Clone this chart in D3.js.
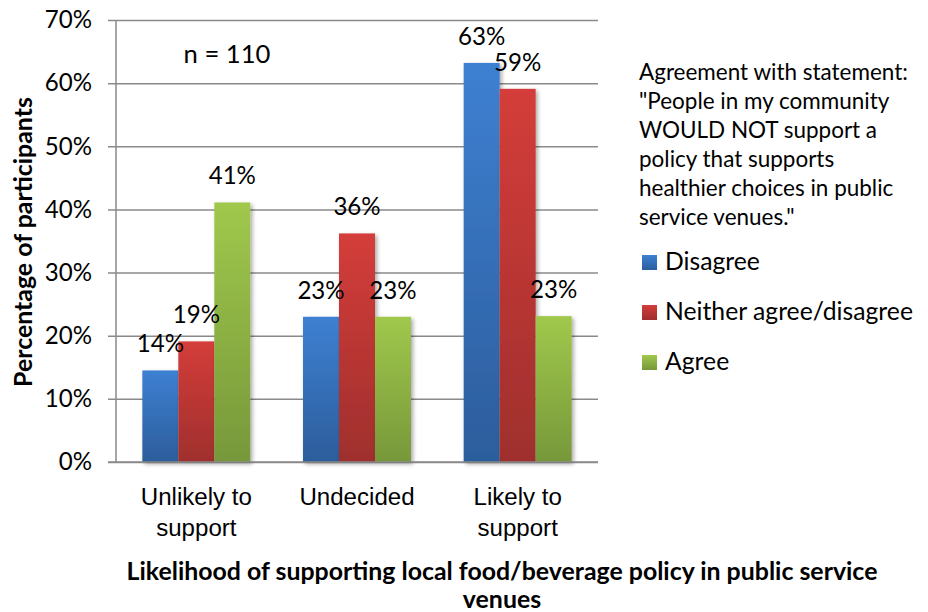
<!DOCTYPE html>
<html><head><meta charset="utf-8">
<script src="https://cdn.jsdelivr.net/npm/d3@7"></script>
<style>body{margin:0;background:#fff}svg{display:block;font-family:Lato,"Open Sans",sans-serif}</style>
</head><body>
<svg id="c" width="928" height="612"></svg>
<script>
const categories = [["Unlikely to","support"],["Undecided"],["Likely to","support"]];
const seriesNames = ["Disagree","Neither agree/disagree","Agree"];
const disagree = [14.5, 23.0, 63.2];
const neither  = [19.1, 36.2, 59.1];
const agree    = [41.1, 23.0, 23.1];
const valueLabels = [["14%","23%","63%"],["19%","36%","59%"],["41%","23%","23%"]];
const yTicks = [0,10,20,30,40,50,60,70];
const legendTitle = ["Agreement with statement:","\"People in my community","WOULD NOT support a","policy that supports","healthier choices in public","service venues.\""];
const colors = [["#3e80d2","#2c5d9c"],["#d43d3a","#9f2f2d"],["#a0c84c","#77983a"]];

const series = [disagree, neither, agree];
const svg = d3.select("#c");
const m = {l:116, r:598, t:20, b:462};

// font size fitting helper (match reference text widths)
function fit(text, weight, width){
  const t = svg.append("text").attr("font-size",20).attr("font-weight",weight).text(text);
  const w = t.node().getComputedTextLength(); t.remove();
  return 20*width/w;
}
const fsMain = fit("Undecided","normal",114);
const fsLegTitle = fit(legendTitle[0],"normal",269);
const fsLeg = fit("Neither agree/disagree","normal",248);
const fsXT = fit("Likelihood of supporting local food/beverage policy in public service","bold",751);
const fsYT = fit("Percentage of participants","bold",290);
const fsN = fit("n = 110","normal",87);

const defs = svg.append("defs");
colors.forEach((c,i)=>{
  const g = defs.append("linearGradient").attr("id","g"+i).attr("x1",0).attr("y1",0).attr("x2",0).attr("y2",1);
  g.append("stop").attr("offset","0%").attr("stop-color",c[0]);
  g.append("stop").attr("offset","100%").attr("stop-color",c[1]);
});
const f = defs.append("filter").attr("id","sh").attr("x","-20%").attr("y","-5%").attr("width","150%").attr("height","115%");
f.append("feGaussianBlur").attr("in","SourceAlpha").attr("stdDeviation",2);
f.append("feOffset").attr("dx",2).attr("dy",2).attr("result","b");
f.append("feComponentTransfer").append("feFuncA").attr("type","linear").attr("slope",0.35);
const mg = f.append("feMerge"); mg.append("feMergeNode"); mg.append("feMergeNode").attr("in","SourceGraphic");

const y = d3.scaleLinear().domain([0,70]).range([m.b,m.t]);
const x0 = d3.scaleBand().domain(d3.range(categories.length)).range([m.l,m.r]).paddingInner(0.328).paddingOuter(0.164);
const x1 = d3.scaleBand().domain(d3.range(series.length)).range([0,x0.bandwidth()]);

// gridlines + y axis
const ya = svg.append("g").attr("transform",`translate(${m.l},0)`)
  .call(d3.axisLeft(y).tickValues(yTicks).tickFormat(d=>d+"%").tickSize(-(m.r-m.l)).tickSizeOuter(0).tickPadding(0));
ya.select(".domain").remove();
ya.selectAll(".tick line").attr("stroke","#8a8a8a").attr("stroke-width",1.5).attr("x1",-8);
ya.selectAll(".tick text").attr("x",-24).attr("font-size",fsMain).attr("fill","#000").attr("font-family","Lato");
svg.append("line").attr("x1",m.l).attr("x2",m.l).attr("y1",m.t).attr("y2",m.b).attr("stroke","#8a8a8a").attr("stroke-width",1.5);

// bars
const groups = svg.append("g").selectAll("g").data(categories).join("g")
  .attr("transform",(d,i)=>`translate(${x0(i)},0)`);
groups.selectAll("rect").data((d,i)=>series.map((s,j)=>({j,v:s[i]}))).join("rect")
  .attr("x",d=>x1(d.j)).attr("width",x1.bandwidth())
  .attr("y",d=>y(d.v)).attr("height",d=>y(0)-y(d.v))
  .attr("fill",d=>`url(#g${d.j})`).attr("filter","url(#sh)");
groups.selectAll("text.v").data((d,i)=>series.map((s,j)=>({j,v:s[i],t:valueLabels[j][i]}))).join("text")
  .attr("class","v").attr("x",d=>x1(d.j)+x1.bandwidth()/2).attr("y",d=>y(d.v)-18)
  .attr("text-anchor","middle").attr("font-size",fsMain).text(d=>d.t);

// baseline
svg.append("line").attr("x1",m.l-8).attr("x2",m.r).attr("y1",m.b).attr("y2",m.b).attr("stroke","#8a8a8a").attr("stroke-width",1.5);

// x labels
const xa = svg.append("g").attr("transform",`translate(0,${m.b})`)
  .call(d3.axisBottom(x0).tickSize(0).tickFormat(""));
xa.select(".domain").remove();
xa.selectAll(".tick").each(function(d){
  const t = d3.select(this).append("text").attr("text-anchor","middle").attr("font-size",fsMain).attr("fill","#000");
  categories[d].forEach((line,k)=>t.append("tspan").attr("x",0).attr("y",43+k*31).text(line));
});

// n label
svg.append("text").attr("x",227).attr("y",63).attr("text-anchor","middle").attr("font-size",fsN).text("n = 110");

// axis titles
svg.append("text").attr("x",502).attr("y",580).attr("text-anchor","middle").attr("font-size",fsXT).attr("font-weight","bold")
  .text("Likelihood of supporting local food/beverage policy in public service");
svg.append("text").attr("x",502).attr("y",608).attr("text-anchor","middle").attr("font-size",fsXT).attr("font-weight","bold").text("venues");
svg.append("text").attr("transform","translate(32,242) rotate(-90)").attr("text-anchor","middle").attr("font-size",fsYT).attr("font-weight","bold")
  .text("Percentage of participants");

// legend
const lt = svg.append("text").attr("font-size",fsLegTitle);
legendTitle.forEach((l,k)=>lt.append("tspan").attr("x",639).attr("y",80+k*29).text(l));
const li = svg.append("g").selectAll("g").data(seriesNames).join("g")
  .attr("transform",(d,i)=>`translate(642,${262+i*50})`);
li.append("rect").attr("x",0).attr("y",-7).attr("width",15).attr("height",15).attr("fill",(d,i)=>`url(#g${i})`);
li.append("text").attr("x",23).attr("y",8).attr("font-size",fsLeg).text(d=>d);
</script>
</body></html>
